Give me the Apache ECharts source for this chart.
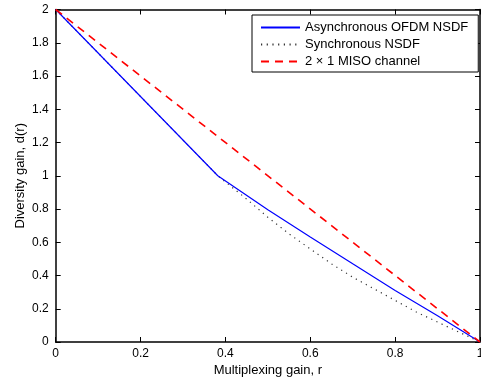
<!DOCTYPE html>
<html>
<head>
<meta charset="utf-8">
<script src="https://cdn.jsdelivr.net/npm/echarts@6/dist/echarts.min.js"></script>
<style>
html,body{margin:0;padding:0;background:#fff;}
#chart{width:481px;height:381px;}
</style>
</head>
<body>
<div id="chart"></div>
<script>
// ---- data ----
const seriesNames = ['Asynchronous OFDM NSDF', 'Synchronous NSDF', '2 \u00d7 1 MISO channel'];
const rAsync = [0, 0.382, 0.5, 0.6, 0.7, 0.8, 0.9, 1];
const dAsync = [2, 1, 0.795, 0.632, 0.47, 0.31, 0.158, 0];
const rSync = [0, 0.382, 0.45, 0.5, 0.55, 0.6, 0.65, 0.7, 0.75, 0.8, 0.85, 0.9, 0.95, 1];
const dSync = [2, 1, 0.86, 0.75, 0.65, 0.56, 0.47, 0.39, 0.32, 0.25, 0.18, 0.12, 0.06, 0];
const rMiso = [0, 1];
const dMiso = [2, 0];
const xTicks = [0, 0.2, 0.4, 0.6, 0.8, 1];
const yTicks = [0, 0.2, 0.4, 0.6, 0.8, 1, 1.2, 1.4, 1.6, 1.8, 2];

const pairs = (xs, ys) => xs.map((x, i) => [x, ys[i]]);
const FONT = '"Liberation Sans", Arial, Helvetica, sans-serif';

const chart = echarts.init(document.getElementById('chart'), null, {renderer: 'canvas'});
const axisLine = {show: true, onZero: false, lineStyle: {color: '#000', width: 1.5}};
const tick = {show: true, inside: true, length: 5, lineStyle: {color: '#000', width: 1}};
chart.setOption({
  animation: false,
  backgroundColor: '#fff',
  textStyle: {fontFamily: FONT},
  grid: {left: 55.7, right: 1, top: 9.5, bottom: 39, containLabel: false, outerBoundsMode: 'none'},
  legend: {
    data: seriesNames,
    orient: 'vertical',
    left: 252,
    top: 15,
    padding: [6, 10, 4, 8],
    itemWidth: 39,
    itemHeight: 14,
    itemGap: 4,
    borderColor: '#000',
    borderWidth: 1,
    backgroundColor: '#fff',
    itemStyle: {opacity: 0},
    textStyle: {fontFamily: FONT, fontSize: 13, color: '#000'}
  },
  xAxis: [{
    type: 'value', min: xTicks[0], max: xTicks[xTicks.length - 1], interval: 0.2,
    position: 'bottom',
    name: 'Multiplexing gain, r', nameLocation: 'middle', nameGap: 22, nameMoveOverlap: false,
    nameTextStyle: {fontFamily: FONT, fontSize: 13, color: '#000'},
    axisLine: axisLine, axisTick: tick,
    axisLabel: {color: '#000', fontSize: 12, fontFamily: FONT, margin: 6},
    splitLine: {show: false}
  }, {
    type: 'value', min: xTicks[0], max: xTicks[xTicks.length - 1], interval: 0.2,
    position: 'top',
    axisLine: axisLine, axisTick: tick, axisLabel: {show: false}, splitLine: {show: false}
  }],
  yAxis: [{
    type: 'value', min: yTicks[0], max: yTicks[yTicks.length - 1], interval: 0.2,
    position: 'left',
    name: 'Diversity gain, d(r)', nameLocation: 'middle', nameGap: 29, nameMoveOverlap: false,
    nameTextStyle: {fontFamily: FONT, fontSize: 13, color: '#000'},
    axisLine: axisLine, axisTick: tick,
    axisLabel: {color: '#000', fontSize: 12, fontFamily: FONT, margin: 7},
    splitLine: {show: false}
  }, {
    type: 'value', min: yTicks[0], max: yTicks[yTicks.length - 1], interval: 0.2,
    position: 'right',
    axisLine: axisLine, axisTick: tick, axisLabel: {show: false}, splitLine: {show: false}
  }],
  series: [{
    name: seriesNames[0], type: 'line', data: pairs(rAsync, dAsync),
    symbol: 'none', lineStyle: {color: '#0000ff', width: 1.2}, itemStyle: {color: '#0000ff'}, z: 3
  }, {
    name: seriesNames[1], type: 'line', data: pairs(rSync, dSync),
    symbol: 'none', lineStyle: {color: '#333', width: 1.2, type: [1.2, 4.5]}, itemStyle: {color: '#333'}, z: 2
  }, {
    name: seriesNames[2], type: 'line', data: pairs(rMiso, dMiso),
    symbol: 'none', lineStyle: {color: '#ff0000', width: 1.6, type: [8, 6]}, itemStyle: {color: '#ff0000'}, z: 4
  }]
});
</script>
</body>
</html>
